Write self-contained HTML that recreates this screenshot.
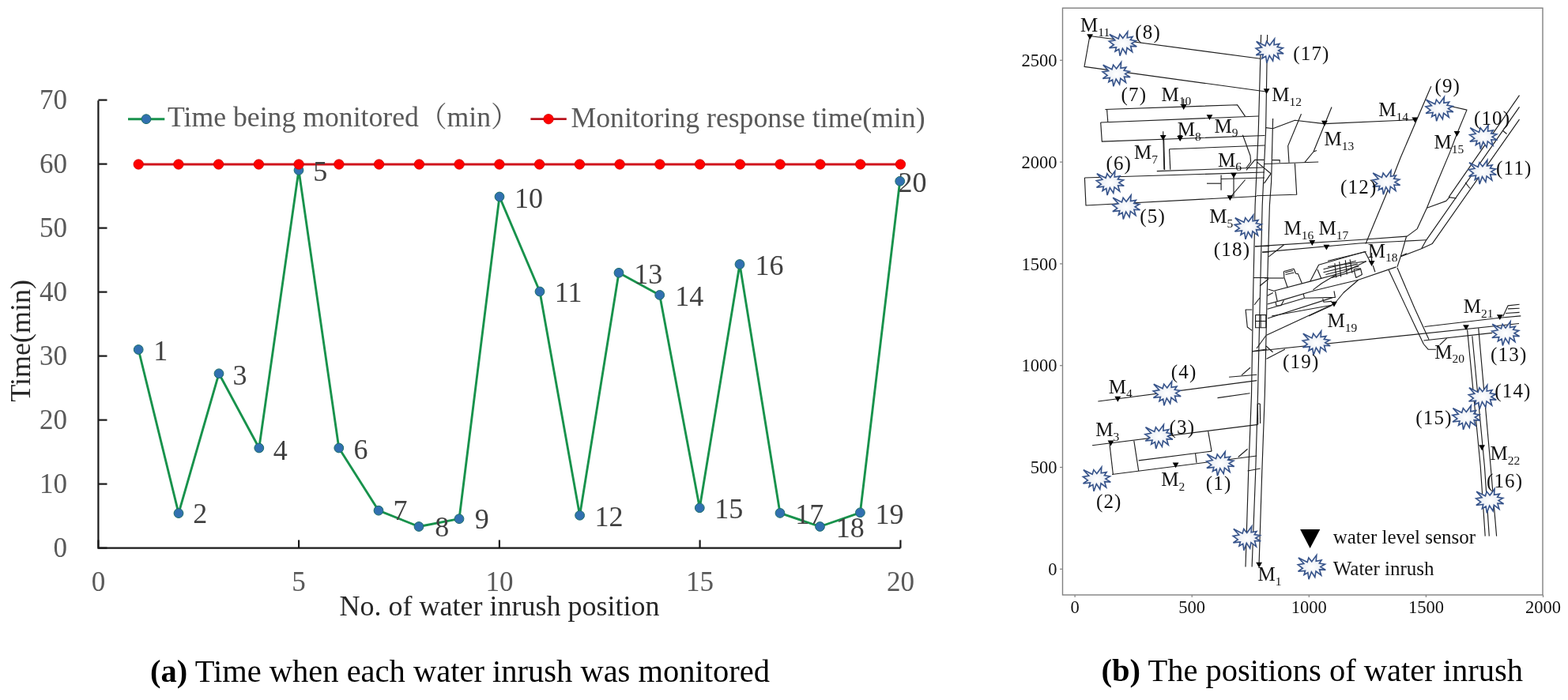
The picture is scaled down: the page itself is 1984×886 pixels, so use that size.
<!DOCTYPE html>
<html><head><meta charset="utf-8"><title>Water inrush monitoring</title>
<style>
html,body{margin:0;padding:0;background:#fff;}
body{width:1984px;height:886px;overflow:hidden;}
svg{display:block;}
text{font-family:"Liberation Serif","Noto Serif CJK SC",serif;}
.tk{font-size:35px;fill:#595959;}
.dl{font-size:36px;fill:#404040;}
.ax{font-size:36px;fill:#262626;}
.lg{font-size:35.7px;fill:#595959;}
.cjk{font-family:"Noto Serif CJK SC","Liberation Serif",serif;}
.cap{font-size:40.5px;fill:#000;}
.mt{font-size:22.5px;fill:#111;}
.ml{font-size:25px;fill:#111;}
.ms{font-size:15.5px;}
</style></head>
<body>
<svg width="1984" height="886" viewBox="0 0 1984 886">
<rect width="1984" height="886" fill="#fff"/>
<path d="M124.4 127.2 V693.6 H1139.4" fill="none" stroke="#1a1a1a" stroke-width="2.2"/>
<path d="M124.4 693.6 H135.5" stroke="#1a1a1a" stroke-width="2.2"/>
<text x="85" y="705.4" text-anchor="end" class="tk">0</text>
<path d="M124.4 612.6 H135.5" stroke="#1a1a1a" stroke-width="2.2"/>
<text x="85" y="624.4" text-anchor="end" class="tk">10</text>
<path d="M124.4 531.6 H135.5" stroke="#1a1a1a" stroke-width="2.2"/>
<text x="85" y="543.4" text-anchor="end" class="tk">20</text>
<path d="M124.4 450.6 H135.5" stroke="#1a1a1a" stroke-width="2.2"/>
<text x="85" y="462.4" text-anchor="end" class="tk">30</text>
<path d="M124.4 369.6 H135.5" stroke="#1a1a1a" stroke-width="2.2"/>
<text x="85" y="381.4" text-anchor="end" class="tk">40</text>
<path d="M124.4 288.6 H135.5" stroke="#1a1a1a" stroke-width="2.2"/>
<text x="85" y="300.4" text-anchor="end" class="tk">50</text>
<path d="M124.4 207.6 H135.5" stroke="#1a1a1a" stroke-width="2.2"/>
<text x="85" y="219.4" text-anchor="end" class="tk">60</text>
<path d="M124.4 126.6 H135.5" stroke="#1a1a1a" stroke-width="2.2"/>
<text x="85" y="138.4" text-anchor="end" class="tk">70</text>
<path d="M124.4 693.6 V683.5" stroke="#1a1a1a" stroke-width="2.2"/>
<text x="124.4" y="748.3" text-anchor="middle" class="tk">0</text>
<path d="M378.1 693.6 V683.5" stroke="#1a1a1a" stroke-width="2.2"/>
<text x="378.1" y="748.3" text-anchor="middle" class="tk">5</text>
<path d="M631.9 693.6 V683.5" stroke="#1a1a1a" stroke-width="2.2"/>
<text x="631.9" y="748.3" text-anchor="middle" class="tk">10</text>
<path d="M885.6 693.6 V683.5" stroke="#1a1a1a" stroke-width="2.2"/>
<text x="885.6" y="748.3" text-anchor="middle" class="tk">15</text>
<path d="M1139.4 693.6 V683.5" stroke="#1a1a1a" stroke-width="2.2"/>
<text x="1139.4" y="748.3" text-anchor="middle" class="tk">20</text>
<text x="429.6" y="778.6" class="ax">No. of water inrush position</text>
<text transform="translate(38,508.7) rotate(-90)" class="ax">Time(min)</text>
<path d="M175.2 442.5 L226.0 649.6 L277.0 472.8 L327.8 567.0 L378.0 215.4 L428.8 567.0 L479.0 646.2 L530.0 666.5 L581.0 656.7 L632.0 249.0 L683.0 369.0 L733.6 652.3 L783.0 345.3 L834.7 373.4 L885.3 642.8 L936.0 334.5 L987.0 649.4 L1037.5 666.5 L1088.4 648.8 L1138.7 229.3" fill="none" stroke="#18924c" stroke-width="2.9" stroke-linejoin="round"/>
<circle cx="175.2" cy="442.5" r="5.9" fill="#3170b0" stroke="#1d6f6a" stroke-width="1"/>
<circle cx="226.0" cy="649.6" r="5.9" fill="#3170b0" stroke="#1d6f6a" stroke-width="1"/>
<circle cx="277.0" cy="472.8" r="5.9" fill="#3170b0" stroke="#1d6f6a" stroke-width="1"/>
<circle cx="327.8" cy="567.0" r="5.9" fill="#3170b0" stroke="#1d6f6a" stroke-width="1"/>
<circle cx="378.0" cy="215.4" r="5.9" fill="#3170b0" stroke="#1d6f6a" stroke-width="1"/>
<circle cx="428.8" cy="567.0" r="5.9" fill="#3170b0" stroke="#1d6f6a" stroke-width="1"/>
<circle cx="479.0" cy="646.2" r="5.9" fill="#3170b0" stroke="#1d6f6a" stroke-width="1"/>
<circle cx="530.0" cy="666.5" r="5.9" fill="#3170b0" stroke="#1d6f6a" stroke-width="1"/>
<circle cx="581.0" cy="656.7" r="5.9" fill="#3170b0" stroke="#1d6f6a" stroke-width="1"/>
<circle cx="632.0" cy="249.0" r="5.9" fill="#3170b0" stroke="#1d6f6a" stroke-width="1"/>
<circle cx="683.0" cy="369.0" r="5.9" fill="#3170b0" stroke="#1d6f6a" stroke-width="1"/>
<circle cx="733.6" cy="652.3" r="5.9" fill="#3170b0" stroke="#1d6f6a" stroke-width="1"/>
<circle cx="783.0" cy="345.3" r="5.9" fill="#3170b0" stroke="#1d6f6a" stroke-width="1"/>
<circle cx="834.7" cy="373.4" r="5.9" fill="#3170b0" stroke="#1d6f6a" stroke-width="1"/>
<circle cx="885.3" cy="642.8" r="5.9" fill="#3170b0" stroke="#1d6f6a" stroke-width="1"/>
<circle cx="936.0" cy="334.5" r="5.9" fill="#3170b0" stroke="#1d6f6a" stroke-width="1"/>
<circle cx="987.0" cy="649.4" r="5.9" fill="#3170b0" stroke="#1d6f6a" stroke-width="1"/>
<circle cx="1037.5" cy="666.5" r="5.9" fill="#3170b0" stroke="#1d6f6a" stroke-width="1"/>
<circle cx="1088.4" cy="648.8" r="5.9" fill="#3170b0" stroke="#1d6f6a" stroke-width="1"/>
<circle cx="1138.7" cy="229.3" r="5.9" fill="#3170b0" stroke="#1d6f6a" stroke-width="1"/>
<path d="M175.2 208.0 H1139.4" stroke="#d0141c" stroke-width="2.8"/>
<circle cx="175.2" cy="208.0" r="6.2" fill="#ff0000" stroke="#d00000" stroke-width="0.8"/>
<circle cx="225.9" cy="208.0" r="6.2" fill="#ff0000" stroke="#d00000" stroke-width="0.8"/>
<circle cx="276.6" cy="208.0" r="6.2" fill="#ff0000" stroke="#d00000" stroke-width="0.8"/>
<circle cx="327.4" cy="208.0" r="6.2" fill="#ff0000" stroke="#d00000" stroke-width="0.8"/>
<circle cx="378.1" cy="208.0" r="6.2" fill="#ff0000" stroke="#d00000" stroke-width="0.8"/>
<circle cx="428.9" cy="208.0" r="6.2" fill="#ff0000" stroke="#d00000" stroke-width="0.8"/>
<circle cx="479.6" cy="208.0" r="6.2" fill="#ff0000" stroke="#d00000" stroke-width="0.8"/>
<circle cx="530.4" cy="208.0" r="6.2" fill="#ff0000" stroke="#d00000" stroke-width="0.8"/>
<circle cx="581.1" cy="208.0" r="6.2" fill="#ff0000" stroke="#d00000" stroke-width="0.8"/>
<circle cx="631.9" cy="208.0" r="6.2" fill="#ff0000" stroke="#d00000" stroke-width="0.8"/>
<circle cx="682.6" cy="208.0" r="6.2" fill="#ff0000" stroke="#d00000" stroke-width="0.8"/>
<circle cx="733.4" cy="208.0" r="6.2" fill="#ff0000" stroke="#d00000" stroke-width="0.8"/>
<circle cx="784.1" cy="208.0" r="6.2" fill="#ff0000" stroke="#d00000" stroke-width="0.8"/>
<circle cx="834.9" cy="208.0" r="6.2" fill="#ff0000" stroke="#d00000" stroke-width="0.8"/>
<circle cx="885.6" cy="208.0" r="6.2" fill="#ff0000" stroke="#d00000" stroke-width="0.8"/>
<circle cx="936.4" cy="208.0" r="6.2" fill="#ff0000" stroke="#d00000" stroke-width="0.8"/>
<circle cx="987.1" cy="208.0" r="6.2" fill="#ff0000" stroke="#d00000" stroke-width="0.8"/>
<circle cx="1037.9" cy="208.0" r="6.2" fill="#ff0000" stroke="#d00000" stroke-width="0.8"/>
<circle cx="1088.7" cy="208.0" r="6.2" fill="#ff0000" stroke="#d00000" stroke-width="0.8"/>
<circle cx="1139.4" cy="208.0" r="6.2" fill="#ff0000" stroke="#d00000" stroke-width="0.8"/>
<text x="194.2" y="456.1" class="dl">1</text>
<text x="244.2" y="662.3" class="dl">2</text>
<text x="294.6" y="487.2" class="dl">3</text>
<text x="345.7" y="581.6" class="dl">4</text>
<text x="396.3" y="228.8" class="dl">5</text>
<text x="447.5" y="581.2" class="dl">6</text>
<text x="497.6" y="658.1" class="dl">7</text>
<text x="550.3" y="678.8" class="dl">8</text>
<text x="600.8" y="668.6" class="dl">9</text>
<text x="651.0" y="262.8" class="dl">10</text>
<text x="701.8" y="382.4" class="dl">11</text>
<text x="752.5" y="666.1" class="dl">12</text>
<text x="802.3" y="358.8" class="dl">13</text>
<text x="854.2" y="387.0" class="dl">14</text>
<text x="904.2" y="656.1" class="dl">15</text>
<text x="955.4" y="347.7" class="dl">16</text>
<text x="1006.3" y="662.5" class="dl">17</text>
<text x="1057.8" y="679.7" class="dl">18</text>
<text x="1107.5" y="662.8" class="dl">19</text>
<text x="1136.5" y="242.8" class="dl">20</text>
<path d="M162 150.7 H208.3" stroke="#18924c" stroke-width="2.9"/>
<circle cx="185" cy="150.7" r="5.9" fill="#3170b0" stroke="#1d6f6a" stroke-width="1"/>
<text x="212" y="160" class="lg">Time being monitored（min）</text>
<path d="M671.4 150.7 H716.8" stroke="#b8121c" stroke-width="2.8"/>
<circle cx="694" cy="150.7" r="6.2" fill="#ff0000" stroke="#d00000" stroke-width="0.8"/>
<text x="722.5" y="161" class="lg">Monitoring response time(min)</text>
<text x="190" y="862.5" class="cap"><tspan font-weight="bold">(a)</tspan> Time when each water inrush was monitored</text>
<text x="1393.5" y="861.5" class="cap"><tspan font-weight="bold">(b)</tspan> The positions of water inrush</text>
<rect x="1344.5" y="10.2" width="607.5" height="742.8" fill="none" stroke="#808080" stroke-width="1.4"/>
<path d="M1341 720.3 H1344.5" stroke="#808080" stroke-width="1.2"/>
<text x="1337.5" y="727.9" text-anchor="end" class="mt">0</text>
<path d="M1341 591.5 H1344.5" stroke="#808080" stroke-width="1.2"/>
<text x="1337.5" y="599.1" text-anchor="end" class="mt">500</text>
<path d="M1341 462.7 H1344.5" stroke="#808080" stroke-width="1.2"/>
<text x="1337.5" y="470.3" text-anchor="end" class="mt">1000</text>
<path d="M1341 333.9 H1344.5" stroke="#808080" stroke-width="1.2"/>
<text x="1337.5" y="341.5" text-anchor="end" class="mt">1500</text>
<path d="M1341 205.1 H1344.5" stroke="#808080" stroke-width="1.2"/>
<text x="1337.5" y="212.7" text-anchor="end" class="mt">2000</text>
<path d="M1341 76.3 H1344.5" stroke="#808080" stroke-width="1.2"/>
<text x="1337.5" y="83.9" text-anchor="end" class="mt">2500</text>
<path d="M1360.1 753 V756" stroke="#808080" stroke-width="1.2"/>
<text x="1360.1" y="775.5" text-anchor="middle" class="mt">0</text>
<path d="M1508.2 753 V756" stroke="#808080" stroke-width="1.2"/>
<text x="1508.2" y="775.5" text-anchor="middle" class="mt">500</text>
<path d="M1656.3 753 V756" stroke="#808080" stroke-width="1.2"/>
<text x="1656.3" y="775.5" text-anchor="middle" class="mt">1000</text>
<path d="M1804.4 753 V756" stroke="#808080" stroke-width="1.2"/>
<text x="1804.4" y="775.5" text-anchor="middle" class="mt">1500</text>
<path d="M1952.5 753 V756" stroke="#808080" stroke-width="1.2"/>
<text x="1952.5" y="775.5" text-anchor="middle" class="mt">2000</text>
<defs><radialGradient id="sg" cx="0.5" cy="0.5" r="0.5"><stop offset="0" stop-color="#ffffff"/><stop offset="0.6" stop-color="#eef1f6"/><stop offset="1" stop-color="#d5dceb"/></radialGradient><path id="sb" d="M0.00 -7.06 L6.03 -15.25 L5.44 -7.73 L12.28 -8.96 L9.56 -4.92 L16.68 -3.76 L11.03 -0.46 L17.50 3.52 L9.78 3.02 L11.90 10.30 L5.22 5.16 L3.97 12.62 L-0.43 5.84 L-3.75 15.25 L-5.00 6.82 L-9.78 9.63 L-8.32 4.43 L-17.28 5.35 L-11.47 1.38 L-17.50 -3.09 L-10.00 -4.49 L-16.90 -12.01 L-5.65 -6.33 L-3.97 -12.01 Z" fill="url(#sg)" stroke="#36538a" stroke-width="1.6" stroke-linejoin="miter"/></defs><g fill="none" stroke="#1e1e1e" stroke-width="1.15" stroke-linejoin="round"><path d="M1378.8 45.5 L1594.8 74.3"/><path d="M1378.8 46.0 L1372.0 84.4 L1602.0 116.0"/><path d="M1398.4 138.5 L1565.5 132.7 L1575.6 147.4"/><path d="M1400.6 138.5 L1401.8 154.5"/><path d="M1392.7 155.0 L1592.6 147.0"/><path d="M1392.7 155.0 L1394.3 179.1 L1600.5 171.5"/><path d="M1479.6 188.8 L1600.5 184.0"/><path d="M1479.6 188.8 L1480.8 214.8"/><path d="M1471.7 166.3 L1472.9 214.8"/><path d="M1472.6 176.0 L1473.6 215.0"/><path d="M1463.8 216.6 L1598.0 212.0"/><path d="M1372.4 225.0 L1600.0 218.0"/><path d="M1372.4 225.0 L1374.0 260.0 L1590.0 248.5"/><path d="M1545.0 226.5 L1600.0 225.0"/><path d="M1527.0 232.2 L1545.1 232.2"/><path d="M1545.1 221.6 L1545.1 240.8"/><path d="M1561.0 222.0 L1561.0 249.0"/><path d="M1556.4 250.0 L1575.6 227.5"/><path d="M1572.4 170.7 L1582.0 197.0 L1582.6 205.0 L1577.0 212.5"/><path d="M1577.0 215.3 L1587.7 202.3 L1599.5 202.3"/><path d="M1590.5 205.1 L1608.0 219.8 L1599.5 232.2"/><path d="M1497.7 125.0 L1497.7 133.0"/><path d="M1601.8 161.6 L1610.5 162.8 L1638.4 152.3 L1675.7 156.6 L1792.0 151.5"/><path d="M1646.5 144.2 L1629.7 184.6 L1631.0 205.7"/><path d="M1685.0 135.5 L1662.0 192.0 L1650.8 205.7"/><path d="M1662.0 192.0 L1666.0 190.5"/><path d="M1600.0 207.5 L1668.2 205.0"/><path d="M1609.9 202.6 L1619.2 202.6 L1619.2 205.7"/><path d="M1638.4 206.9 L1640.7 246.3 L1590.0 247.8"/><path d="M1595.6 44.0 L1592.3 165.0 L1588.1 260.0 L1585.7 370.0 L1583.5 500.0 L1579.6 600.0 L1576.0 717.5"/><path d="M1603.6 44.0 L1601.6 165.0 L1597.2 260.0 L1594.5 370.0 L1591.5 500.0 L1588.6 600.0 L1584.1 717.5"/><path d="M1610.6 150.0 L1608.6 230.0 L1606.4 260.0 L1603.3 370.0 L1600.3 500.0 L1596.7 600.0 L1593.1 713.0"/><path d="M1588.0 311.8 L1606.0 311.5"/><path d="M1597.0 319.2 L1606.0 319.0"/><path d="M1586.0 351.5 L1605.0 351.5"/><path d="M1594.0 362.0 L1605.0 353.0"/><path d="M1587.0 386.0 L1594.0 377.0"/><path d="M1584.2 392.0 L1576.1 392.0 L1578.3 414.0 L1584.2 418.4"/><path d="M1588.6 398.6 L1601.8 398.6 L1601.8 414.7 L1588.6 414.7 L1588.6 398.6"/><path d="M1588.6 406.5 L1601.8 406.5"/><path d="M1595.2 398.6 L1595.2 414.7"/><path d="M1590.0 441.0 L1602.0 424.5"/><path d="M1585.0 444.5 L1603.0 442.0"/><path d="M1571.0 474.9 L1582.0 465.3"/><path d="M1591.3 511.0 L1591.8 537.0"/><path d="M1594.3 511.0 L1594.7 536.0"/><path d="M1591.3 511.0 L1594.3 511.0"/><path d="M1578.6 596.0 L1594.7 593.0"/><path d="M1566.7 578.5 L1578.6 568.2"/><path d="M1389.3 508.0 L1590.3 481.6"/><path d="M1555.1 477.2 L1590.3 474.3"/><path d="M1540.5 503.6 L1581.5 497.8"/><path d="M1382.0 563.8 L1591.8 537.4"/><path d="M1434.8 557.9 L1440.7 596.0"/><path d="M1528.7 546.2 L1533.1 571.1"/><path d="M1440.7 582.9 L1533.1 571.1"/><path d="M1407.0 600.5 L1590.3 577.0"/><path d="M1404.0 562.3 L1408.4 600.5"/><path d="M1512.6 574.0 L1514.0 585.8"/><path d="M1810.8 109.3 L1771.9 200.0 L1754.5 244.7 L1728.0 308.5"/><path d="M1834.5 134.2 L1856.0 139.1 L1843.5 169.2 L1834.5 192.9 L1818.9 230.0 L1805.4 263.2 L1793.2 289.6 L1780.3 299.1 L1720.0 303.5 L1588.0 311.9"/><path d="M1805.4 263.2 L1829.8 254.4 L1834.0 249.6"/><path d="M1922.5 120.6 L1833.1 249.6"/><path d="M1922.5 135.3 L1804.7 303.8 L1798.6 314.7"/><path d="M1922.5 151.1 L1812.1 308.6 L1798.6 314.7 L1772.2 324.8"/><path d="M1833.1 249.6 L1842.6 251.0"/><path d="M1854.0 231.0 L1860.0 238.5"/><path d="M1901.0 165.0 L1906.5 169.5"/><path d="M1597.1 319.1 L1720.0 308.0 L1804.7 303.8"/><path d="M1605.4 324.9 L1624.4 310.0"/><path d="M1779.6 299.0 L1772.4 324.3 L1767.9 337.9"/><path d="M1772.4 324.3 L1780.0 320.8"/><path d="M1600.0 352.0 L1624.4 352.0"/><path d="M1624.4 343.5 L1637.0 340.3 L1639.7 346.2 L1642.4 346.6 L1647.4 358.8"/><path d="M1624.4 343.5 L1624.8 351.1 L1629.3 364.2"/><path d="M1626.0 345.0 L1636.0 342.5"/><path d="M1626.5 347.5 L1637.5 345.0"/><path d="M1604.5 366.0 L1611.7 368.3 L1657.8 356.1 L1700.0 344.7 L1728.7 330.7"/><path d="M1603.6 385.0 L1625.0 379.1 L1663.0 367.8 L1700.0 358.8 L1718.0 354.5 L1766.6 337.9"/><path d="M1603.6 391.3 L1650.0 377.5"/><path d="M1609.0 400.0 L1684.8 386.3 L1688.0 385.0"/><path d="M1656.0 400.0 L1684.8 386.8"/><path d="M1688.0 385.0 L1700.0 370.5 L1718.8 354.2"/><path d="M1657.8 356.1 L1668.6 335.3 L1727.0 318.5 L1733.0 330.0"/><path d="M1680.0 330.2 L1728.7 318.5"/><path d="M1680.0 337.5 L1728.7 330.7"/><path d="M1674.5 340.8 L1715.8 330.3"/><path d="M1674.5 344.7 L1717.7 334.1"/><path d="M1677.4 347.5 L1719.6 337.0"/><path d="M1685.1 351.4 L1721.5 340.8"/><path d="M1688.9 333.2 L1690.8 351.4"/><path d="M1694.7 331.2 L1696.6 350.4"/><path d="M1702.3 329.3 L1704.3 347.5"/><path d="M1708.1 328.4 L1711.0 345.6"/><path d="M1712.9 340.8 L1721.5 339.9 L1723.4 347.5 L1715.8 351.4 L1712.9 340.8"/><path d="M1667.0 341.0 L1672.0 353.0"/><path d="M1649.2 371.9 L1650.5 377.3 L1689.4 376.4 L1688.0 368.3"/><path d="M1673.6 377.8 L1675.0 382.3 L1685.0 381.4"/><path d="M1661.4 366.9 L1672.2 358.8 L1690.0 348.0"/><path d="M1613.5 368.7 L1616.2 381.4"/><path d="M1603.6 374.2 L1610.8 370.5"/><path d="M1614.0 382.0 L1615.0 387.0 L1620.8 386.8 L1624.4 380.2"/><path d="M1735.6 320.0 L1735.6 333.0"/><path d="M1737.2 336.0 L1739.9 344.2"/><path d="M1757.0 341.5 L1790.0 411.8 L1801.3 435.5 L1807.0 442.2 L1817.1 442.2"/><path d="M1767.9 338.8 L1790.0 390.3 L1808.0 429.8"/><path d="M1602.5 424.3 L1687.6 384.7"/><path d="M1604.0 403.0 L1686.2 376.6"/><path d="M1602.5 454.3 L1626.0 441.9"/><path d="M1584.0 445.0 L1922.0 409.5"/><path d="M1602.0 438.0 L1610.5 445.7"/><path d="M1802.4 413.5 L1897.8 402.2 L1924.3 399.9"/><path d="M1801.3 431.0 L1888.2 421.4"/><path d="M1821.6 436.6 L1830.6 428.1"/><path d="M1901.7 400.5 L1908.0 386.9 L1922.6 385.2"/><path d="M1908.0 390.9 L1922.6 390.3"/><path d="M1905.1 396.5 L1922.6 395.4"/><path d="M1856.6 417.4 L1873.2 590.0 L1879.2 678.6"/><path d="M1862.8 425.3 L1878.4 590.0 L1884.3 678.6"/><path d="M1870.7 415.1 L1886.1 590.0 L1893.6 678.6"/></g><g fill="#000"><path d="M1589.2 711.7 H1597.0 L1593.1 718.6 Z"/><path d="M1483.7 585.4 H1491.5 L1487.6 592.3 Z"/><path d="M1401.6 557.5 H1409.4 L1405.5 564.4 Z"/><path d="M1410.4 501.8 H1418.2 L1414.3 508.7 Z"/><path d="M1552.5 247.2 H1560.3 L1556.4 254.1 Z"/><path d="M1557.1 218.7 H1564.9 L1561.0 225.6 Z"/><path d="M1467.8 170.9 H1475.6 L1471.7 177.8 Z"/><path d="M1489.3 172.0 H1497.1 L1493.2 178.9 Z"/><path d="M1526.6 145.2 H1534.4 L1530.5 152.1 Z"/><path d="M1493.8 132.0 H1501.6 L1497.7 138.9 Z"/><path d="M1375.2 43.2 H1383.0 L1379.1 50.1 Z"/><path d="M1598.7 112.2 H1606.5 L1602.6 119.1 Z"/><path d="M1672.0 152.8 H1679.8 L1675.9 159.7 Z"/><path d="M1786.4 148.4 H1794.2 L1790.3 155.3 Z"/><path d="M1839.6 165.9 H1847.4 L1843.5 172.8 Z"/><path d="M1656.4 304.1 H1664.2 L1660.3 311.0 Z"/><path d="M1674.5 309.7 H1682.3 L1678.4 316.6 Z"/><path d="M1731.7 330.1 H1739.5 L1735.6 337.0 Z"/><path d="M1684.1 381.7 H1691.9 L1688.0 388.6 Z"/><path d="M1851.1 411.2 H1858.9 L1855.0 418.1 Z"/><path d="M1893.9 398.2 H1901.7 L1897.8 405.1 Z"/><path d="M1871.2 563.3 H1879.0 L1875.1 570.2 Z"/></g><path d="M1645.1 670.1 H1670.3 L1657.6 694.1 Z" fill="#000"/><use href="#sb" x="1544.2" y="587.0"/><use href="#sb" x="1387.8" y="606.6"/><use href="#sb" x="1466.4" y="552.7"/><use href="#sb" x="1476.7" y="498.1"/><use href="#sb" x="1425.1" y="262.3"/><use href="#sb" x="1404.8" y="231.8"/><use href="#sb" x="1412.6" y="94.1"/><use href="#sb" x="1420.8" y="55.4"/><use href="#sb" x="1821.4" y="138.1"/><use href="#sb" x="1877.1" y="173.8"/><use href="#sb" x="1875.9" y="217.8"/><use href="#sb" x="1754.1" y="231.0"/><use href="#sb" x="1905.1" y="422.2"/><use href="#sb" x="1875.8" y="502.7"/><use href="#sb" x="1855.3" y="528.6"/><use href="#sb" x="1885.1" y="634.1"/><use href="#sb" x="1606.6" y="64.4"/><use href="#sb" x="1579.7" y="287.6"/><use href="#sb" x="1665.7" y="434.3"/><use href="#sb" x="1577.7" y="681.5"/><use href="#sb" x="1659.8" y="717.9"/><text x="1591.5" y="735.4" class="ml">M<tspan class="ms" dy="5.5">1</tspan></text><text x="1469.3" y="615.1" class="ml">M<tspan class="ms" dy="5.5">2</tspan></text><text x="1386.3" y="552.0" class="ml">M<tspan class="ms" dy="5.5">3</tspan></text><text x="1402.7" y="497.8" class="ml">M<tspan class="ms" dy="5.5">4</tspan></text><text x="1530.3" y="282.2" class="ml">M<tspan class="ms" dy="5.5">5</tspan></text><text x="1541.1" y="210.6" class="ml">M<tspan class="ms" dy="5.5">6</tspan></text><text x="1434.9" y="201.3" class="ml">M<tspan class="ms" dy="5.5">7</tspan></text><text x="1489.8" y="172.4" class="ml">M<tspan class="ms" dy="5.5">8</tspan></text><text x="1536.5" y="167.7" class="ml">M<tspan class="ms" dy="5.5">9</tspan></text><text x="1469.5" y="127.6" class="ml">M<tspan class="ms" dy="5.5">10</tspan></text><text x="1367.1" y="40.4" class="ml">M<tspan class="ms" dy="5.5">11</tspan></text><text x="1609.3" y="128.4" class="ml">M<tspan class="ms" dy="5.5">12</tspan></text><text x="1675.4" y="184.3" class="ml">M<tspan class="ms" dy="5.5">13</tspan></text><text x="1744.3" y="147.0" class="ml">M<tspan class="ms" dy="5.5">14</tspan></text><text x="1814.6" y="188.4" class="ml">M<tspan class="ms" dy="5.5">15</tspan></text><text x="1624.6" y="297.2" class="ml">M<tspan class="ms" dy="5.5">16</tspan></text><text x="1668.6" y="297.2" class="ml">M<tspan class="ms" dy="5.5">17</tspan></text><text x="1730.7" y="325.5" class="ml">M<tspan class="ms" dy="5.5">18</tspan></text><text x="1679.6" y="414.0" class="ml">M<tspan class="ms" dy="5.5">19</tspan></text><text x="1815.3" y="453.5" class="ml">M<tspan class="ms" dy="5.5">20</tspan></text><text x="1851.7" y="396.3" class="ml">M<tspan class="ms" dy="5.5">21</tspan></text><text x="1885.4" y="582.0" class="ml">M<tspan class="ms" dy="5.5">22</tspan></text><text x="1525.7" y="619.8" class="ml" letter-spacing="1.2">(1)</text><text x="1386.9" y="643.4" class="ml" letter-spacing="1.2">(2)</text><text x="1479.6" y="549.2" class="ml" letter-spacing="1.2">(3)</text><text x="1481.7" y="478.5" class="ml" letter-spacing="1.2">(4)</text><text x="1442.3" y="282.0" class="ml" letter-spacing="1.2">(5)</text><text x="1399.4" y="215.2" class="ml" letter-spacing="1.2">(6)</text><text x="1418.5" y="127.8" class="ml" letter-spacing="1.2">(7)</text><text x="1436.2" y="48.7" class="ml" letter-spacing="1.2">(8)</text><text x="1815.4" y="117.0" class="ml" letter-spacing="1.2">(9)</text><text x="1864.9" y="158.0" class="ml" letter-spacing="1.2">(10)</text><text x="1893.1" y="220.5" class="ml" letter-spacing="1.2">(11)</text><text x="1696.0" y="244.5" class="ml" letter-spacing="1.2">(12)</text><text x="1886.0" y="457.4" class="ml" letter-spacing="1.2">(13)</text><text x="1891.2" y="502.5" class="ml" letter-spacing="1.2">(14)</text><text x="1791.3" y="536.6" class="ml" letter-spacing="1.2">(15)</text><text x="1880.9" y="617.0" class="ml" letter-spacing="1.2">(16)</text><text x="1636.2" y="76.2" class="ml" letter-spacing="1.2">(17)</text><text x="1535.8" y="324.0" class="ml" letter-spacing="1.2">(18)</text><text x="1623.0" y="466.0" class="ml" letter-spacing="1.2">(19)</text><text x="1686.7" y="688" class="ml">water level sensor</text><text x="1686.7" y="727.5" class="ml">Water inrush</text>
</svg>
</body></html>
